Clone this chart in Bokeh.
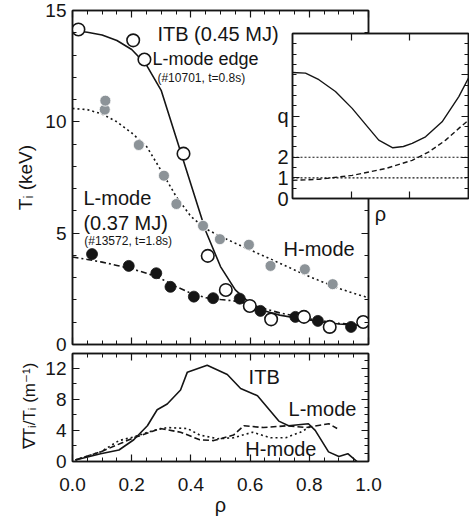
from bokeh.plotting import figure
from bokeh.models import (Range1d, LinearAxis, SingleIntervalTicker, FixedTicker, Label, Span,
                          PrintfTickFormatter)
from bokeh.layouts import column
from bokeh.embed import file_html
from bokeh.resources import INLINE

FONT = "Liberation Sans"
INK = "#151515"
GRAY = "#8c9398"

# ---------------- main panel: Ti profiles ----------------
itb_rho = [0.02, 0.205, 0.243, 0.375, 0.457, 0.518, 0.599, 0.671, 0.782, 0.869, 0.982]
itb_ti = [14.15, 13.66, 12.8, 8.57, 3.98, 2.45, 1.73, 1.13, 1.24, 0.79, 1.01]

lmode_rho = [0.066, 0.19, 0.283, 0.331, 0.41, 0.475, 0.565, 0.635, 0.753, 0.829, 0.941]
lmode_ti = [4.06, 3.53, 3.2, 2.59, 2.15, 2.08, 2.06, 1.51, 1.24, 1.06, 0.79]

hmode_rho = [0.109, 0.111, 0.224, 0.309, 0.351, 0.441, 0.498, 0.596, 0.669, 0.785, 0.879]
hmode_ti = [10.55, 10.95, 8.96, 7.58, 6.31, 5.33, 4.73, 4.48, 3.53, 3.38, 2.71]

fit_rho = [0.0, 0.05, 0.1, 0.15, 0.2, 0.25, 0.3, 0.35, 0.4, 0.45, 0.5,
           0.55, 0.6, 0.65, 0.7, 0.75, 0.8, 0.85, 0.9, 0.95, 1.0]
itb_fit = [14.1, 14.02, 13.9, 13.65, 13.25, 12.55, 11.4, 9.3, 7.2, 5.1, 3.5,
           2.45, 1.85, 1.5, 1.32, 1.2, 1.1, 1.0, 0.92, 0.88, 0.86]
hmode_fit = [10.6, 10.55, 10.35, 10.0, 9.5, 8.9, 7.8, 6.65, 5.75, 5.2, 4.85,
             4.55, 4.25, 3.95, 3.65, 3.35, 3.05, 2.78, 2.52, 2.3, 2.1]
lmode_fit = [3.93, 3.82, 3.7, 3.55, 3.4, 3.2, 2.95, 2.6, 2.3, 2.1, 2.02,
             1.95, 1.8, 1.6, 1.42, 1.28, 1.15, 1.05, 0.95, 0.9, 0.86]

# ---------------- lower panel: gradient scale length ----------------
grad_itb_rho = [0.01, 0.095, 0.157, 0.207, 0.253, 0.286, 0.32, 0.365, 0.388, 0.455, 0.523,
                0.568, 0.625, 0.697, 0.73, 0.797, 0.82, 0.865, 0.9, 0.93, 0.97]
grad_itb = [0.2, 1.0, 1.48, 2.8, 4.6, 6.66, 7.4, 9.2, 11.5, 12.4, 11.2,
            9.4, 8.47, 5.2, 4.6, 4.86, 4.0, 1.24, 0.64, 1.0, -0.3]
grad_l_rho = [0.01, 0.095, 0.17, 0.207, 0.297, 0.365, 0.43, 0.477, 0.544, 0.579,
              0.645, 0.726, 0.79, 0.866, 0.894]
grad_l = [0.2, 1.24, 2.45, 3.05, 4.25, 3.77, 2.8, 2.69, 3.4, 4.6,
          4.37, 4.6, 4.37, 4.86, 4.25]
grad_h_rho = [0.01, 0.095, 0.157, 0.207, 0.274, 0.32, 0.388, 0.43, 0.49, 0.544,
              0.608, 0.669, 0.72, 0.77, 0.804]
grad_h = [0.2, 1.24, 2.69, 3.17, 4.0, 4.37, 4.25, 3.4, 2.93, 3.05,
          3.77, 3.05, 3.05, 3.77, 4.49]

# ---------------- inset: q profiles ----------------
q_itb_rho = [0.0, 0.074, 0.15, 0.244, 0.339, 0.434, 0.49, 0.57, 0.63, 0.68, 0.756, 0.85, 0.945, 1.0]
q_itb = [6.11, 6.08, 5.76, 5.19, 4.37, 3.4, 2.83, 2.46, 2.52, 2.67, 2.99, 3.72, 4.94, 5.84]
q_l_rho = [0.0, 0.15, 0.339, 0.528, 0.68, 0.775, 0.87, 0.945, 1.0]
q_l = [0.88, 0.93, 1.12, 1.45, 1.85, 2.26, 2.83, 3.4, 3.8]
q_ref = [1, 2]


def style_axis(ax, labels=True, size="19px"):
    ax.major_tick_in = 7
    ax.major_tick_out = 0
    ax.minor_tick_in = 4
    ax.minor_tick_out = 0
    ax.axis_line_width = 1.5
    ax.axis_line_color = INK
    ax.major_tick_line_width = 1.2
    ax.minor_tick_line_width = 1
    ax.major_tick_line_color = INK
    ax.minor_tick_line_color = INK
    ax.major_label_text_font = FONT
    ax.major_label_text_color = INK
    ax.axis_label_text_font = FONT
    ax.axis_label_text_font_style = "normal"
    ax.axis_label_text_color = INK
    if labels:
        ax.major_label_text_font_size = size
    else:
        ax.major_label_text_font_size = "1px"
        ax.major_label_text_color = None
        ax.major_label_standoff = 0


def add_frame_axes(p, xt, yt, rxt=None, ryt=None):
    top = LinearAxis(ticker=rxt or xt)
    right = LinearAxis(ticker=ryt or yt)
    style_axis(top, labels=False)
    style_axis(right, labels=False)
    p.add_layout(top, "above")
    p.add_layout(right, "right")


def label(p, text, x, y, size):
    p.add_layout(Label(x=x, y=y, text=text, text_font=FONT, text_font_size=size,
                       text_color=INK, text_baseline="middle", text_align="left"))


# ===== main figure =====
main = figure(width=469, height=359, x_range=Range1d(0, 1), y_range=Range1d(0, 15),
              output_backend="svg", toolbar_location=None,
              min_border_left=72, min_border_right=101, min_border_top=10, min_border_bottom=15)
main.grid.visible = False
main.outline_line_color = INK
main.outline_line_width = 1.5
mxt = SingleIntervalTicker(interval=0.2, num_minor_ticks=4)
myt = SingleIntervalTicker(interval=5, num_minor_ticks=5)
main.xaxis.ticker = mxt
main.yaxis.ticker = myt
style_axis(main.xaxis[0], labels=False)
style_axis(main.yaxis[0])
main.yaxis.axis_label = "Tᵢ (keV)"
main.yaxis.axis_label_text_font_size = "19px"
main.yaxis.axis_label_standoff = 6
main.yaxis.major_label_standoff = 6
add_frame_axes(main, mxt, myt)

main.line(fit_rho, itb_fit, line_color=INK, line_width=1.6)
main.line(fit_rho, hmode_fit, line_color=INK, line_width=1.6, line_dash="2 3")
main.line(fit_rho, lmode_fit, line_color=INK, line_width=1.6, line_dash="6 3 2 3")
main.scatter(hmode_rho, hmode_ti, size=11, fill_color=GRAY, line_color="white", line_width=0.8)
main.scatter(lmode_rho, lmode_ti, size=11, fill_color=INK, line_color=INK, line_width=0.8)
main.scatter(itb_rho, itb_ti, size=12.5, fill_color="white", line_color=INK, line_width=1.6)

label(main, "ITB (0.45 MJ)", 0.287, 13.94, "20px")
label(main, "L-mode edge", 0.27, 12.82, "18px")
label(main, "(#10701, t=0.8s)", 0.287, 11.97, "12px")
label(main, "L-mode", 0.037, 6.6, "20px")
label(main, "(0.37 MJ)", 0.037, 5.46, "20px")
label(main, "(#13572, t=1.8s)", 0.04, 4.65, "12px")
label(main, "H-mode", 0.713, 4.29, "20px")

# ===== lower figure =====
low = figure(width=469, height=169, x_range=Range1d(0, 1), y_range=Range1d(0, 13.9),
             output_backend="svg", toolbar_location=None,
             min_border_left=72, min_border_right=101, min_border_top=4, min_border_bottom=50)
low.grid.visible = False
low.border_fill_color = None
low.outline_line_color = INK
low.outline_line_width = 1.5
lxt = SingleIntervalTicker(interval=0.2, num_minor_ticks=4)
lyt = SingleIntervalTicker(interval=4, num_minor_ticks=2)
low.xaxis.ticker = lxt
low.yaxis.ticker = lyt
low.xaxis.formatter = PrintfTickFormatter(format="%.1f")
style_axis(low.xaxis[0])
style_axis(low.yaxis[0])
low.xaxis.axis_label = "ρ"
low.xaxis.axis_label_text_font_size = "20px"
low.xaxis.axis_label_standoff = 0
low.xaxis.major_label_standoff = 16
low.yaxis.axis_label = "∇Tᵢ/Tᵢ (m⁻¹)"
low.yaxis.axis_label_text_font_size = "17px"
low.yaxis.axis_label_standoff = 3
low.yaxis.major_label_standoff = 6
add_frame_axes(low, lxt, lyt, ryt=SingleIntervalTicker(interval=4, num_minor_ticks=4))

low.line(grad_itb_rho, grad_itb, line_color=INK, line_width=1.6)
low.line(grad_l_rho, grad_l, line_color=INK, line_width=1.6, line_dash="6 3")
low.line(grad_h_rho, grad_h, line_color=INK, line_width=1.6, line_dash="2 3")
label(low, "ITB", 0.595, 10.9, "20px")
label(low, "L-mode", 0.73, 6.77, "20px")
label(low, "H-mode", 0.584, 1.57, "20px")
# lower panel slightly overlaps the main panel's bottom border
low.margin = (-10, 0, 0, 0)

# ===== inset figure (separate root, placed over the main panel's corner) =====
ins = figure(width=204, height=203, x_range=Range1d(0, 1), y_range=Range1d(0, 8),
             output_backend="svg", toolbar_location=None,
             min_border_left=27, min_border_right=1, min_border_top=8, min_border_bottom=30)
ins.grid.visible = False
ins.outline_line_color = INK
ins.outline_line_width = 1.5
ins.background_fill_color = "white"
ins.border_fill_color = None
ixt = FixedTicker(ticks=[1 / 3, 2 / 3], minor_ticks=[])
iyt = FixedTicker(ticks=[0, 1, 2, 4], minor_ticks=[0.5 * i for i in range(17)])
ins.xaxis.ticker = ixt
ins.yaxis.ticker = iyt
style_axis(ins.xaxis[0], labels=False)
style_axis(ins.yaxis[0], size="20px")
ins.yaxis.major_label_overrides = {4: "q"}
ins.yaxis.major_label_standoff = 4
ins.xaxis.axis_label = "ρ"
ins.xaxis.axis_label_text_font_size = "20px"
ins.xaxis.axis_label_standoff = 4
add_frame_axes(ins, ixt, FixedTicker(ticks=[0, 2, 4, 6, 8], minor_ticks=[0.5 * i for i in range(17)]))
for qv in q_ref:
    ins.add_layout(Span(location=qv, dimension="width", line_color=INK, line_width=1.2, line_dash="2 2"))
ins.line(q_itb_rho, q_itb, line_color=INK, line_width=1.4)
ins.line(q_l_rho, q_l, line_color=INK, line_width=1.4, line_dash="5 3")
ins.styles = {"position": "absolute", "left": "265px", "top": "25px", "z-index": "5"}

layout = column(main, low)
open("out.html", "w").write(file_html([layout, ins], INLINE))
